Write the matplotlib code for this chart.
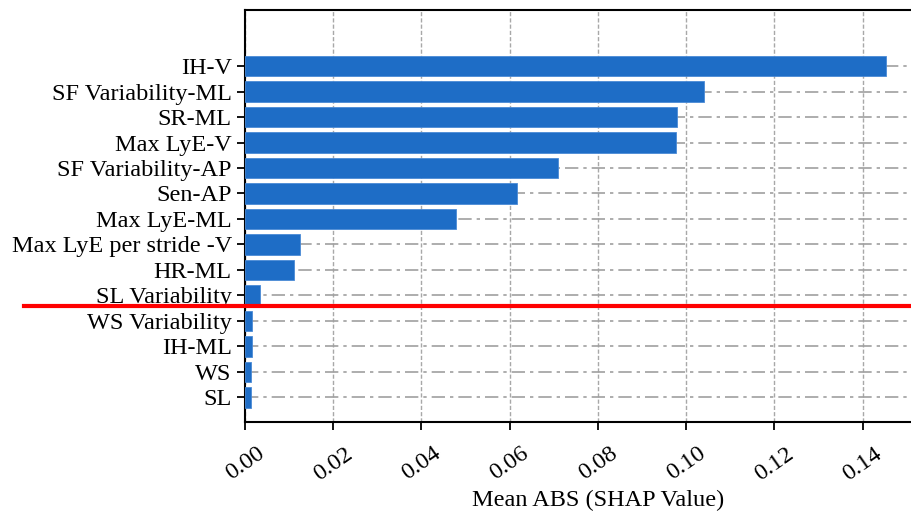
import matplotlib
matplotlib.use("Agg")
import matplotlib.pyplot as plt
import numpy as np

plt.rcParams['font.family'] = ['Liberation Serif', 'DejaVu Serif']

# features, bottom to top
features = ["SL", "WS", "IH-ML", "WS Variability", "SL Variability", "HR-ML",
            "Max LyE per stride -V", "Max LyE-ML", "Sen-AP", "SF Variability-AP",
            "Max LyE-V", "SR-ML", "SF Variability-ML", "IH-V"]
mean_abs_shap = [0.0013, 0.00136, 0.0015, 0.00166, 0.0034, 0.0111,
                 0.01246, 0.0479, 0.0616, 0.0709,
                 0.0976, 0.0980, 0.1040, 0.1453]
x_ticks = [0.00, 0.02, 0.04, 0.06, 0.08, 0.10, 0.12, 0.14]
cutoff = 3.58  # between WS Variability and SL Variability

fig = plt.figure(figsize=(9.11, 5.19), dpi=100)
ax = fig.add_axes([0.2689, 0.1863, 0.775, 0.7944])

y = np.arange(len(features))
ax.barh(y, mean_abs_shap, height=0.8, color='#1e6dc6', edgecolor='#4a8ad6',
        linewidth=0.6, zorder=3)

ax.set_yticks(y)
ax.set_yticklabels(features, fontsize=17.5)
ax.set_xticks(x_ticks)
ax.set_xticklabels([f"{t:.2f}" for t in x_ticks], fontsize=17.5, rotation=35,
                   ha='center')
ax.set_xlim(0, 0.16)
ax.set_ylim(-0.98, 15.2)

ax.xaxis.grid(True, linestyle=(0, (3, 1.5)), color='#a8a8a8', linewidth=1, zorder=0)
ax.yaxis.grid(True, linestyle=(0, (8, 3, 2, 3)), color='#a0a0a0', linewidth=1.2, zorder=0)
ax.set_axisbelow(True)

ax.tick_params(axis='both', direction='out', length=6, width=1.3, color='black')
ax.tick_params(axis='x', pad=9)
for s in ['top', 'left', 'bottom']:
    ax.spines[s].set_linewidth(1.5)
ax.spines['right'].set_visible(False)

ax.set_xlabel("Mean ABS (SHAP Value)", fontsize=17.5)
ax.xaxis.set_label_coords(0.5, -0.165)

# red cutoff line, runs out into the label area
ax.plot([-0.050, 0.16], [cutoff, cutoff], color='red', linewidth=3,
        clip_on=False, zorder=5)

fig.savefig("out.png", dpi=100)
